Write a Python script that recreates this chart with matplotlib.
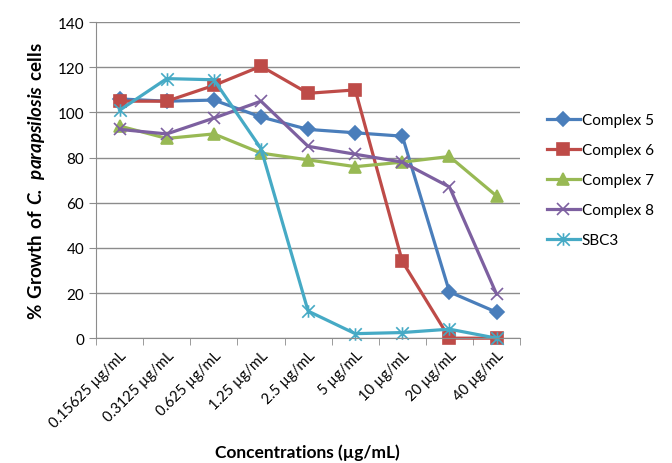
import matplotlib
matplotlib.use("Agg")
import matplotlib.pyplot as plt
from matplotlib.path import Path

plt.rcParams['font.family'] = ['Lato', 'DejaVu Sans']
plt.rcParams['mathtext.fontset'] = 'custom'
plt.rcParams['mathtext.rm'] = 'Lato'
plt.rcParams['mathtext.bf'] = 'Lato:bold'
plt.rcParams['mathtext.bfit'] = 'Lato:bold:italic'

concentrations = ['0.15625 µg/mL', '0.3125 µg/mL', '0.625 µg/mL', '1.25 µg/mL',
                  '2.5 µg/mL', '5 µg/mL', '10 µg/mL', '20 µg/mL', '40 µg/mL']

complex5 = [106, 105, 105.5, 98, 92.5, 91, 89.5, 20.5, 11.5]
complex6 = [105, 105, 112, 120.5, 108.5, 110, 34, 0, 0]
complex7 = [94, 88.5, 90.5, 82, 79, 76, 78, 80.5, 63]
complex8 = [92.5, 90.5, 97.5, 105, 85, 81.5, 78, 67, 19.5]
sbc3 = [101, 115, 114.5, 84, 12, 2, 2.5, 4, 0]

# x plus a vertical bar, like the spreadsheet "star" marker
star = Path([(-1, -1), (1, 1), (-1, 1), (1, -1), (0, -1), (0, 1)],
            [Path.MOVETO, Path.LINETO, Path.MOVETO, Path.LINETO, Path.MOVETO, Path.LINETO])

series = [
    ('Complex 5', complex5, '#4A7EBB', 'D', 7),
    ('Complex 6', complex6, '#BE4B48', 's', 9),
    ('Complex 7', complex7, '#98B954', '^', 9),
    ('Complex 8', complex8, '#7D60A0', 'x', 9),
    ('SBC3', sbc3, '#46AAC5', star, 9),
]

fig = plt.figure(figsize=(6.72, 4.64), dpi=100)
ax = fig.add_axes([0.143, 0.269, 0.631, 0.681])

x = list(range(len(concentrations)))
for name, vals, color, marker, ms in series:
    ax.plot(x, vals, color=color, lw=2.3, marker=marker, ms=ms,
            markeredgecolor=color, markerfacecolor=color, mew=1.2, label=name,
            clip_on=False)

ax.set_xlim(-0.5, len(concentrations) - 0.5)
ax.set_ylim(0, 140)
ax.set_yticks(range(0, 141, 20))
ax.yaxis.grid(True, color='#8c8c8c', lw=1)
ax.set_axisbelow(True)

ax.set_xticks(x)
ax.set_xticklabels(concentrations, rotation=45, ha='right', rotation_mode='anchor')
ax.set_xticks([i - 0.5 for i in range(len(concentrations) + 1)], minor=True)
ax.tick_params(axis='x', which='major', length=0, pad=7, labelsize=10.5)
ax.tick_params(axis='x', which='minor', length=5, color='#8c8c8c')
ax.tick_params(axis='y', length=5, color='#8c8c8c', labelsize=11)

for side in ['top', 'right']:
    ax.spines[side].set_visible(False)
for side in ['left', 'bottom']:
    ax.spines[side].set_color('#8c8c8c')

# x title placed on the figure so it sits below the rotated tick labels
fig.text(0.458, 0.024, 'Concentrations (µg/mL)', fontsize=12.5, fontweight='bold',
         ha='center', va='center')
ax.set_ylabel(r'$\mathbf{\%\ Growth\ of\ }\mathbfit{C.\ parapsilosis}\mathbf{\ cells}$',
              fontsize=13.5, labelpad=8)

ax.legend(loc='center left', bbox_to_anchor=(1.03, 0.5), frameon=False,
          fontsize=11, handlelength=2.2, handletextpad=0.1, labelspacing=1.05)

fig.savefig('out.png', dpi=100)
